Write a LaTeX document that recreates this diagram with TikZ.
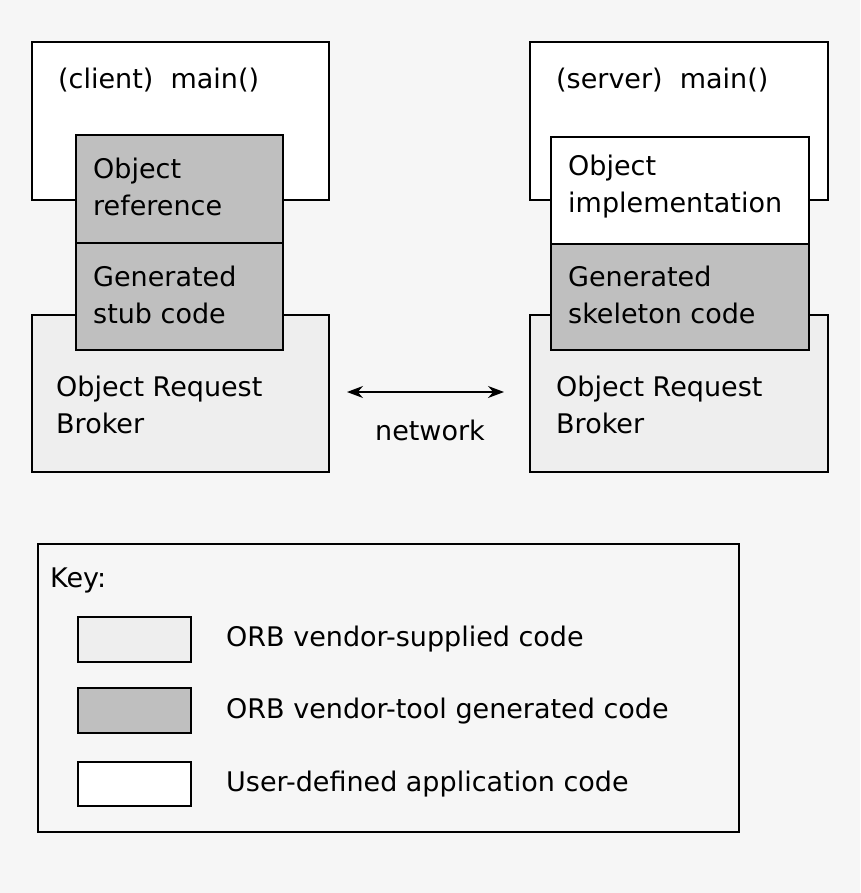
\documentclass[tikz,border=0pt]{standalone}
\usepackage{fontspec}
\setmainfont{DejaVu Sans}
\usetikzlibrary{arrows.meta}
\definecolor{bg}{HTML}{F6F6F6}
\definecolor{lg}{HTML}{EEEEEE}
\definecolor{dg}{HTML}{BFBFBF}
\begin{document}
\begin{tikzpicture}[x=1pt,y=-1pt,
  box/.style={draw=black,line width=1.5pt},
  txt/.style={anchor=west,align=left,inner sep=0pt,font=\fontsize{27}{37}\selectfont}]
\fill[bg] (0,0) rectangle (860,893);
\useasboundingbox (0,0) rectangle (860,893);
% client
\draw[box,fill=white] (32,42) rectangle (329,200);
\draw[box,fill=lg] (32,315) rectangle (329,472);
\draw[box,fill=dg] (76,135) rectangle (283,243);
\draw[box,fill=dg] (76,243) rectangle (283,350);
\node[txt] (cm) at (58,80) {(client)\ \ main()};
\node[txt] (or) at (93,187) {Object\\reference};
\node[txt] (st) at (93,295) {Generated\\stub code};
\node[txt] (cb) at (56,405) {Object Request\\Broker};
% server
\draw[box,fill=white] (530,42) rectangle (828,200);
\draw[box,fill=lg] (530,315) rectangle (828,472);
\draw[box,fill=white] (551,137) rectangle (809,244);
\draw[box,fill=dg] (551,244) rectangle (809,350);
\node[txt] (sm) at (556,80) {(server)\ \ main()};
\node[txt] (oi) at (568,187) {Object\\implementation};
\node[txt] (sk) at (568,295) {Generated\\skeleton code};
\node[txt] (sb) at (556,405) {Object Request\\Broker};
% network
\coordinate (a1) at (347,392);
\coordinate (a2) at (504,392);
\draw[line width=1.5pt,{Stealth[length=16pt,width=12pt]}-{Stealth[length=16pt,width=12pt]}] (a1) -- (a2);
\node[txt,anchor=center] (nw) at (430,430) {network};
% key
\draw[box,fill=bg] (38,544) rectangle (739,832);
\node[txt] (key) at (50,580) {Key:};
\draw[box,fill=lg] (78,617) rectangle (191,662);
\draw[box,fill=dg] (78,688) rectangle (191,733);
\draw[box,fill=white] (78,762) rectangle (191,806);
\node[txt] (k1) at (226,639) {ORB vendor-supplied code};
\node[txt] (k2) at (226,711) {ORB vendor-tool generated code};
\node[txt] (k3) at (226,784) {User-defined application code};
\end{tikzpicture}
\end{document}
